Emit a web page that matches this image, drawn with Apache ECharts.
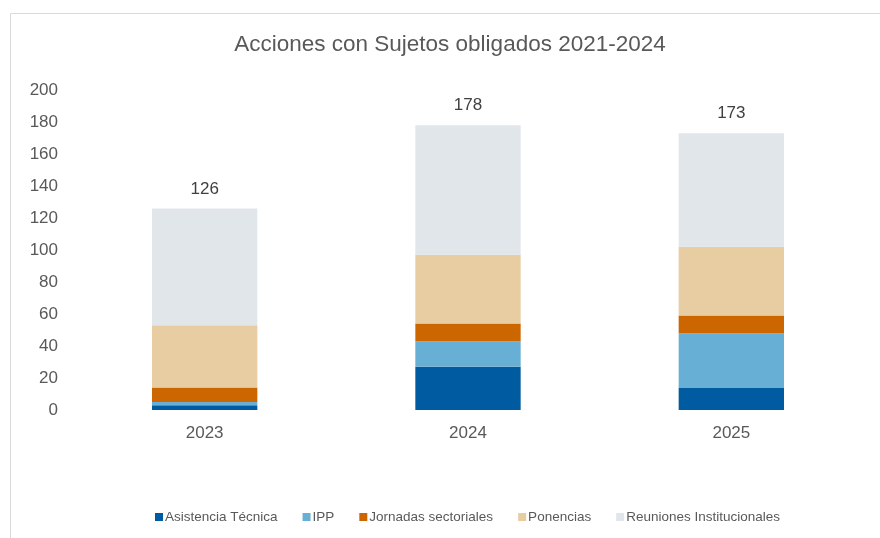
<!DOCTYPE html>
<html>
<head>
<meta charset="utf-8">
<script src="https://cdn.jsdelivr.net/npm/echarts@6/dist/echarts.min.js"></script>
<style>
  html, body { margin: 0; padding: 0; background: #fff; }
  #chart { width: 880px; height: 538px; }
</style>
</head>
<body>
<div id="chart"></div>
<script>
// datos
const years = ["2023", "2024", "2025"];
const asistencia = [3, 27, 14];
const ipp = [2, 16, 34];
const jornadas = [9, 11, 11];
const ponencias = [39, 43, 43];
const reuniones = [73, 81, 71];
const yTicks = [0, 20, 40, 60, 80, 100, 120, 140, 160, 180, 200];

const totals = years.map((y, i) =>
  asistencia[i] + ipp[i] + jornadas[i] + ponencias[i] + reuniones[i]);

const font = "Liberation Sans, Arial, sans-serif";

function barSeries(name, data, color) {
  return {
    name: name,
    type: "bar",
    stack: "total",
    barWidth: "40%",
    data: data,
    itemStyle: { color: color }
  };
}

let myChart = echarts.init(document.getElementById("chart"));
let last = barSeries("Reuniones Institucionales", reuniones, "#e1e6eb");
last.label = {
  show: true,
  position: "top",
  distance: 11,
  fontFamily: font,
  fontSize: 17,
  color: "#404040",
  formatter: p => totals[p.dataIndex]
};

myChart.setOption({
  animation: false,
  graphic: [{
    type: "rect",
    left: 8,
    top: 11,
    shape: { width: 900, height: 600 },
    style: { fill: "none", stroke: "#d9d9d9", lineWidth: 1 }
  }],
  title: {
    text: "Acciones con Sujetos obligados 2021-2024",
    left: 445,
    textAlign: "center",
    top: 28,
    textStyle: {
      fontFamily: font,
      fontSize: 22.5,
      fontWeight: "normal",
      color: "#595959"
    }
  },
  legend: {
    top: 505,
    left: 150,
    icon: "rect",
    itemWidth: 8,
    itemHeight: 8,
    itemGap: 25,
    textStyle: {
      fontFamily: font,
      fontSize: 13.5,
      color: "#595959",
      padding: [0, 0, 0, -3]
    }
  },
  grid: { left: 73, right: 17, top: 90, bottom: 128 },
  xAxis: {
    type: "category",
    data: years,
    axisLine: { show: false },
    axisTick: { show: false },
    axisLabel: {
      margin: 15,
      fontFamily: font,
      fontSize: 17,
      color: "#595959"
    }
  },
  yAxis: {
    type: "value",
    min: yTicks[0],
    max: yTicks[yTicks.length - 1],
    interval: yTicks[1] - yTicks[0],
    splitLine: { show: false },
    axisLine: { show: false },
    axisTick: { show: false },
    axisLabel: {
      margin: 15,
      fontFamily: font,
      fontSize: 17,
      color: "#595959"
    }
  },
  series: [
    barSeries("Asistencia Técnica", asistencia, "#005ba1"),
    barSeries("IPP", ipp, "#67afd4"),
    barSeries("Jornadas sectoriales", jornadas, "#cc6600"),
    barSeries("Ponencias", ponencias, "#e8cda2"),
    last
  ]
});
</script>
</body>
</html>
